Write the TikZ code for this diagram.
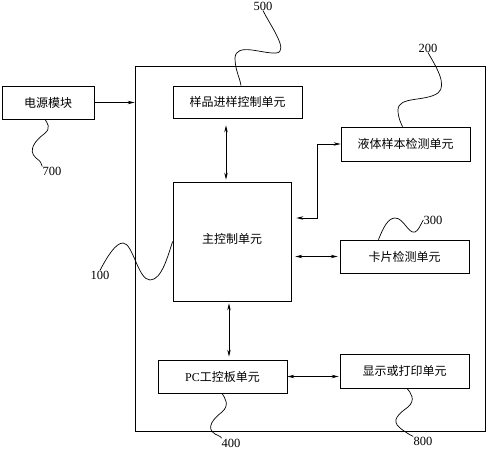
\documentclass[tikz,border=0pt]{standalone}
\usepackage{fontspec}
\setmainfont{Liberation Serif}
\newfontfamily\cjk{Noto Sans CJK SC}
\usetikzlibrary{arrows.meta}

\begin{document}
\begin{tikzpicture}[x=1pt, y=-1pt, line width=0.7pt,
    >={Stealth[length=7pt, width=3.5pt]},
    unit/.style={rectangle, draw, inner sep=0pt, font=\cjk\fontsize{12}{13}\selectfont},
    refnum/.style={inner sep=0pt, font=\fontsize{12.5}{13}\selectfont}]
    \useasboundingbox (0,0) rectangle (488,450);

    % Frame
    \node[draw, inner sep=0pt, minimum width=350pt, minimum height=365pt] (frame) at (310,248.5) {};

    % Units
    \node[unit, minimum width=92pt, minimum height=33pt] (power) at (48,102.5) {电源模块};
    \node[unit, minimum width=129pt, minimum height=32pt] (sample) at (237.5,102) {样品进样控制单元};
    \node[unit, minimum width=129pt, minimum height=34pt] (liquid) at (405.5,144) {液体样本检测单元};
    \node[unit, minimum width=118pt, minimum height=119pt] (main) at (232,241.5) {\raisebox{6pt}{主控制单元}};
    \node[unit, minimum width=129pt, minimum height=33pt] (card) at (404.5,256.5) {卡片检测单元};
    \node[unit, minimum width=129pt, minimum height=33pt] (pc) at (222.5,376.5) {{\rmfamily PC}工控板单元};
    \node[unit, minimum width=129pt, minimum height=34pt] (display) at (404.5,371) {显示或打印单元};

    % Reference numbers
    \node[refnum] (n500) at (263,6) {500};
    \node[refnum] (n200) at (428,48) {200};
    \node[refnum] (n300) at (433,220) {300};
    \node[refnum] (n100) at (100,275) {100};
    \node[refnum] (n400) at (231,443) {400};
    \node[refnum] (n800) at (423,441) {800};
    \node[refnum] (n700) at (52,171) {700};

    % Connections
    \draw[->] (power) -- (power -| frame.west);
    \draw[<->, shorten <=7pt, shorten >=2pt] ([xshift=-11.5pt]sample.south) -- ([xshift=-11.5pt]sample.south |- main.north);
    \draw[<->, shorten <=5pt] ([yshift=23.5pt]main.east) -| ([xshift=-23pt]liquid.west) -- (liquid.west);
    \draw[<->, shorten <=4pt, shorten >=2pt] (card.west -| main.east) -- (card.west);
    \draw[<->, shorten <=2pt, shorten >=3pt] ([xshift=-3pt]main.south) -- ([xshift=-3pt]main.south |- pc.north);
    \draw[<->, shorten >=1pt] (pc.east) -- (pc.east -| display.west);

    % Leaders
    \draw (n500.south) .. controls (270,25) and (290,52) .. (276,53) .. controls (262,54) and (236,42) .. (235,58) .. controls (235,70) and (240,78) .. ([xshift=3.5pt]sample.north);
    \draw (n200.south) .. controls (435,65) and (448,85) .. (438,93) .. controls (425,102) and (398,96) .. (398,110) .. controls (398,118) and (401,123) .. ([xshift=-3pt]liquid.north);
    \draw ([xshift=-26pt]card.north) .. controls (383,228) and (388,218) .. (395,218) .. controls (404,218) and (408,234) .. (415,232) .. controls (418,231) and (420,226) .. (n300.west);
    \draw (n100.north) .. controls (108,255) and (116,243) .. (123,243) .. controls (133,243) and (138,280) .. (150,280) .. controls (162,280) and (168,255) .. (main.west);
    \draw ([xshift=-0.5pt]pc.south) .. controls (225,398) and (230,405) .. (222,412) .. controls (214,418) and (205,428) .. (215,434) .. controls (219,436) and (222,437) .. (n400.north west);
    \draw ([xshift=2.5pt]display.south) .. controls (411,393) and (416,400) .. (408,407) .. controls (400,413) and (390,420) .. (400,428) .. controls (405,432) and (410,435) .. (n800.north west);
    \draw ([xshift=-3pt]power.south) .. controls (47,123) and (52,128) .. (44,134) .. controls (36,140) and (27,150) .. (36,158) .. controls (40,161) and (42,163) .. (n700.north west);
\end{tikzpicture}
\end{document}
